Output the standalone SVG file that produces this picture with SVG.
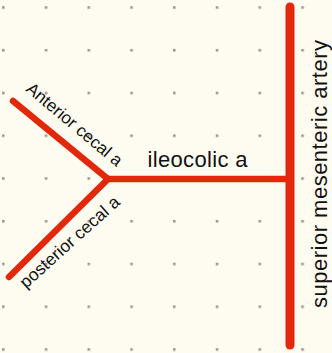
<svg xmlns="http://www.w3.org/2000/svg" width="332" height="353" viewBox="0 0 332 353">
  <defs>
    <pattern id="grid" patternUnits="userSpaceOnUse" x="2" y="6.2" width="42.75" height="42.75">
      <rect x="0" y="0" width="2.6" height="2.6" fill="#9a9a90"/>
    </pattern>
    <style>
      .artery { fill: none; stroke: #e2270b; stroke-linecap: round; stroke-linejoin: round; }
      .lbl { font-family: "Liberation Sans", Arial, Helvetica, sans-serif; fill: #111; }
    </style>
  </defs>
  <rect width="332" height="353" fill="#fefcf0"/>
  <rect width="332" height="353" fill="url(#grid)"/>

  <g id="connectors">
    <line class="artery" x1="290" y1="7" x2="290" y2="345" stroke-width="9"/>
    <line class="artery" x1="108" y1="179" x2="288" y2="179" stroke-width="6.5"/>
    <polyline class="artery" points="13,101 108,179 9,277" stroke-width="6.5"/>
  </g>

  <g id="superior-mesenteric-artery">
    <text class="lbl" font-size="22" text-anchor="middle" transform="translate(327,174) rotate(-90)" textLength="268">superior mesenteric artery</text>
  </g>
  <g id="ileocolic-a">
    <text class="lbl" x="147.5" y="167.3" font-size="22" textLength="100">ileocolic a</text>
  </g>
  <g id="anterior-cecal-a">
    <text class="lbl" font-size="17.2" transform="translate(25,90.5) rotate(40)">Anterior cecal a</text>
  </g>
  <g id="posterior-cecal-a">
    <text class="lbl" font-size="17.4" transform="translate(26,289) rotate(-42)">posterior cecal a</text>
  </g>
</svg>
